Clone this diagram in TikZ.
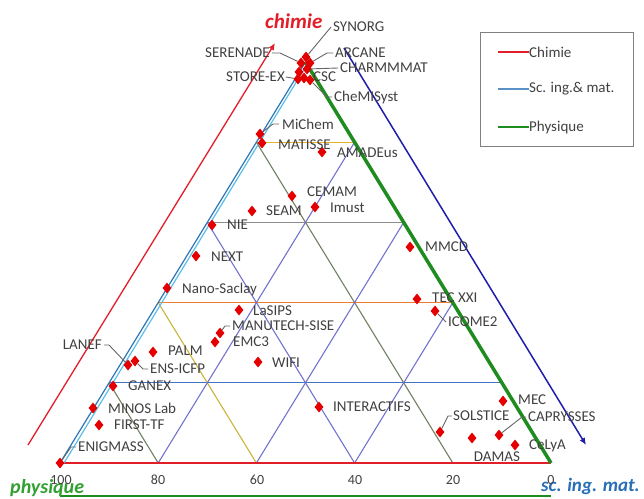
\documentclass[tikz,border=0pt]{standalone}
\usepackage{fontspec}
\setmainfont{Carlito}
\usetikzlibrary{shapes.geometric,arrows.meta,calc}
\definecolor{ptred}{RGB}{228,0,0}
\definecolor{labgray}{RGB}{64,64,64}
\definecolor{axred}{RGB}{226,30,40}
\definecolor{axblue}{RGB}{46,117,182}
\definecolor{axcyan}{RGB}{90,190,230}
\definecolor{axgreen}{RGB}{30,140,30}
\definecolor{navy}{RGB}{30,30,170}
\definecolor{gblue}{RGB}{68,114,196}
\definecolor{gorange}{RGB}{237,125,49}
\definecolor{ggray}{RGB}{140,140,140}
\definecolor{ggold}{RGB}{230,180,40}
\definecolor{gpurple}{RGB}{115,115,205}
\definecolor{golive}{RGB}{112,128,96}
\definecolor{gyellow}{RGB}{200,180,60}
\definecolor{txtgreen}{RGB}{50,160,50}
\definecolor{txtblue}{RGB}{40,110,180}
\begin{document}
\begin{tikzpicture}[x=1pt,y=-1pt,
  pt/.style={diamond,fill=ptred,inner sep=0pt,minimum width=9pt,minimum height=11pt},
  lab/.style={anchor=west,text=labgray,font=\fontsize{15}{17}\selectfont,inner sep=0pt},
  tick/.style={text=labgray,font=\fontsize{14}{16}\selectfont,inner sep=0pt},
  leader/.style={draw=labgray!80,line width=0.9pt},
  grid/.style={line width=1.1pt},
  axtitle/.style={font=\fontsize{20}{22}\selectfont\bfseries\itshape,inner sep=0pt}]
\useasboundingbox (0,0) rectangle (644,498);
% vertices
\coordinate (A) at (305.5,62);
\coordinate (BL) at (60,463);
\coordinate (BR) at (551,463);
% horizontal grid
\draw[grid,gblue]   ($(BL)!0.2!(A)$) coordinate (h2l) -- ($(BR)!0.2!(A)$) coordinate (h2r);
\draw[grid,gorange] ($(BL)!0.4!(A)$) coordinate (h4l) -- ($(BR)!0.4!(A)$) coordinate (h4r);
\draw[grid,ggray]   ($(BL)!0.6!(A)$) coordinate (h6l) -- ($(BR)!0.6!(A)$) coordinate (h6r);
\draw[grid,ggold]   ($(BL)!0.8!(A)$) coordinate (h8l) -- ($(BR)!0.8!(A)$) coordinate (h8r);
% bottom ticks
\coordinate (b80) at ($(BL)!0.2!(BR)$);
\coordinate (b60) at ($(BL)!0.4!(BR)$);
\coordinate (b40) at ($(BL)!0.6!(BR)$);
\coordinate (b20) at ($(BL)!0.8!(BR)$);
% lines parallel to right edge
\draw[grid,golive]  (h8l) -- (b20);
\draw[grid,gpurple] (h6l) -- (b40);
\draw[grid,gyellow] (h4l) -- (b60);
\draw[grid,golive]  (h2l) -- (b80);
% lines parallel to left edge
\draw[grid,gpurple] (b80) -- (h8r);
\draw[grid,gpurple] (b60) -- (h6r);
\draw[grid,gpurple] (b40) -- (h4r);
% edges
\draw[line width=1.3pt,axred] (BL) -- (BR);
\draw[line width=1.2pt,axcyan] ($(BL)+(4,0)$) coordinate (cl) -- ($(A)+(3,0)$) coordinate (ca);
\draw[line width=1.2pt,axblue] (BL) -- (A);
\draw[line width=3.5pt,axgreen] (A) -- (BR);
% outer axes
\coordinate (ra0) at (28,445); \coordinate (ra1) at (275,43);
\draw[line width=1.3pt,axred,-{Latex[length=7pt,width=6pt]}] (ra0) -- (ra1);
\coordinate (ba0) at (344,48); \coordinate (ba1) at (586,445);
\draw[line width=1.5pt,navy,-{Latex[length=7pt,width=6pt]}] (ba0) -- (ba1);
\coordinate (ga0) at (60,496); \coordinate (ga1) at (551,496);
\draw[line width=2.8pt,axgreen] (ga0) -- (ga1);
% axis titles
\node[axtitle,text=axred,anchor=west,font=\fontsize{21}{23}\selectfont\bfseries\itshape] (tchim) at (265,21) {chimie};
\node[axtitle,text=txtgreen,anchor=west] (tphys) at (10,488) {physique};
\node[axtitle,text=txtblue,anchor=west,font=\fontsize{19}{21}\selectfont\bfseries\itshape] (tsc) at (541,486) {sc. ing. mat.};
% tick labels
\node[tick] (t100) at (61,480) {100};
\node[tick] (t80) at (158,480) {80};
\node[tick] (t60) at (257,480) {60};
\node[tick] (t40) at (355,480) {40};
\node[tick] (t20) at (453,480) {20};
\node[tick] (t0) at (551,480) {0};
% legend
\node[draw=gray,line width=0.8pt,minimum width=153pt,minimum height=114pt,anchor=north west] (leg) at (480,32) {};
\node[lab] (lchim) at (529,52) {Chimie};
\node[lab] (lsc) at (529,89) {Sc. ing.\& mat.};
\node[lab] (lphy) at (529,127) {Physique};
\coordinate (lr0) at (498,52); \coordinate (lb0) at (498,89); \coordinate (lg0) at (498,127);
\draw[line width=2.5pt,axred] (lr0) -- (lchim.west);
\draw[line width=1.2pt,axblue!80] (lb0) -- (lsc.west);
\draw[line width=2.5pt,axgreen] (lg0) -- (lphy.west);
% data points
\node[pt] (psyn) at (306,57) {};
\node[pt] (pser) at (301,63) {};
\node[pt] (parc) at (310,63) {};
\node[pt] (pcha) at (307,69) {};
\node[pt] (psto) at (299,72) {};
\node[pt] (pstb) at (298,79) {};
\node[pt] (pcsc) at (304,78) {};
\node[pt] (pchm) at (310,80) {};
\node[pt] (pmic) at (260,134) {};
\node[pt] (pmat) at (262,143) {};
\node[pt] (pama) at (322,152) {};
\node[pt] (pcem) at (292,196) {};
\node[pt] (psea) at (252,211) {};
\node[pt] (pimu) at (315,207) {};
\node[pt] (pnie) at (212,225) {};
\node[pt] (pnex) at (196,256) {};
\node[pt] (pnan) at (167,288) {};
\node[pt] (pmmc) at (410,247) {};
\node[pt] (ptec) at (417,299) {};
\node[pt] (pico) at (435,311) {};
\node[pt] (plas) at (239,310) {};
\node[pt] (pman) at (220,333) {};
\node[pt] (pemc) at (215,342) {};
\node[pt] (pwif) at (258,362) {};
\node[pt] (ppal) at (153,352) {};
\node[pt] (plan) at (128,365) {};
\node[pt] (pens) at (135,361) {};
\node[pt] (pgan) at (113,386) {};
\node[pt] (pmin) at (93,408) {};
\node[pt] (pfir) at (99,425) {};
\node[pt] (penig) at (60,463) {};
\node[pt] (pint) at (319,407) {};
\node[pt] (pmec) at (503,401) {};
\node[pt] (psol) at (440,432) {};
\node[pt] (pcap) at (499,435) {};
\node[pt] (pdam) at (472,438) {};
\node[pt] (pcel) at (515,445) {};
% labels
\node[lab] (lsyn) at (333,27) {SYNORG};
\node[lab,anchor=east] (lser) at (270,53) {SERENADE};
\node[lab] (larc) at (335,53) {ARCANE};
\node[lab] (lcha) at (340,68) {CHARMMMAT};
\node[lab,anchor=east] (lsto) at (285,77) {STORE-EX};
\node[lab] (lcsc) at (313,77) {CSC};
\node[lab] (lchm) at (334,97) {CheMISyst};
\node[lab] (lmic) at (282,124) {MiChem};
\node[lab] (lmat) at (278,145) {MATISSE};
\node[lab] (lama) at (337,153) {AMADEus};
\node[lab] (lcem) at (307,192) {CEMAM};
\node[lab] (lsea) at (266,211) {SEAM};
\node[lab] (limu) at (330,208) {Imust};
\node[lab] (lnie) at (227,225) {NIE};
\node[lab] (lnex) at (211,257) {NEXT};
\node[lab] (lnan) at (182,289) {Nano-Saclay};
\node[lab] (lmmc) at (425,247) {MMCD};
\node[lab] (ltec) at (432,298) {TEC XXI};
\node[lab] (lico) at (448,322) {ICOME2};
\node[lab] (llas) at (253,311) {LaSIPS};
\node[lab] (lman) at (232,326) {MANUTECH-SISE};
\node[lab] (lemc) at (233,342) {EMC3};
\node[lab] (lwif) at (272,363) {WIFI};
\node[lab] (lpal) at (168,351) {PALM};
\node[lab,anchor=east] (llan) at (102,345) {LANEF};
\node[lab] (lens) at (150,369) {ENS-ICFP};
\node[lab] (lgan) at (128,386) {GANEX};
\node[lab] (lmin) at (108,408) {MINOS Lab};
\node[lab] (lfir) at (114,425) {FIRST-TF};
\node[lab] (lenig) at (78,447) {ENIGMASS};
\node[lab] (lint) at (333,407) {INTERACTIFS};
\node[lab] (lmec) at (518,400) {MEC};
\node[lab] (lsol) at (453,416) {SOLSTICE};
\node[lab] (lcap) at (528,417) {CAPRYSSES};
\node[lab,anchor=center] (ldam) at (497,457) {DAMAS};
\node[lab] (lcel) at (529,446) {CeLyA};
% leaders
\draw[leader] ([xshift=-2pt]lsyn.west) -- (psyn);
\draw[leader] ([xshift=2pt]lser.east) -- ++(8,0) -- (pser);
\draw[leader] ([xshift=-2pt]larc.west) -- ++(-6,0) -- (parc);
\draw[leader] ([xshift=-2pt]lcha.west) -- (pcha);
\draw[leader] ([xshift=1pt]lsto.east) -- (pstb);
\draw[leader] ([xshift=-2pt]lchm.west) -- ++(-5,0) -- (pchm);
\draw[leader] ([xshift=-3pt]lmic.west) -- ++(-6,0) -- (pmic);
\draw[leader] ([xshift=-2pt]lman.west) -- ++(-5,0) -- (pman);
\draw[leader] ([xshift=2pt]llan.east) -- ++(5,0) -- (plan);
\draw[leader] ([xshift=-2pt]lens.west) -- ++(-5,0) -- (pens);
\draw[leader] ([xshift=-2pt]lenig.west) -- ++(-5,0) -- (penig);
\draw[leader] ([xshift=-2pt]lico.west) -- (pico);
\draw[leader] ([xshift=-1pt]lsol.west) -- ++(-4,0) -- (psol);
\draw[leader] ([xshift=-2pt]lcap.west) -- ++(-4,0) -- (pcap);
\end{tikzpicture}
\end{document}
